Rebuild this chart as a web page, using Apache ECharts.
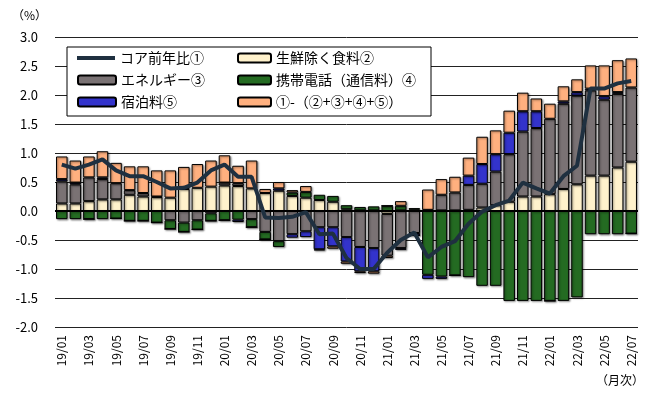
<!DOCTYPE html>
<html><head><meta charset="utf-8">
<script src="https://cdn.jsdelivr.net/npm/echarts@6/dist/echarts.min.js"></script>
<style>html,body{margin:0;padding:0;background:#fff}#c{width:650px;height:394px}</style>
</head><body><div id="c"></div>
<script>
const months = ['19/01','19/02','19/03','19/04','19/05','19/06','19/07','19/08','19/09','19/10','19/11','19/12',
'20/01','20/02','20/03','20/04','20/05','20/06','20/07','20/08','20/09','20/10','20/11','20/12',
'21/01','21/02','21/03','21/04','21/05','21/06','21/07','21/08','21/09','21/10','21/11','21/12',
'22/01','22/02','22/03','22/04','22/05','22/06','22/07'];
const core = [0.80,0.73,0.80,0.89,0.70,0.60,0.60,0.50,0.39,0.40,0.49,0.70,
0.80,0.59,0.59,-0.11,-0.12,-0.10,-0.02,-0.40,-0.39,-0.81,-1.00,-1.00,
-0.72,-0.50,-0.37,-0.80,-0.62,-0.52,-0.22,-0.01,0.10,0.18,0.49,0.39,
0.30,0.60,0.78,2.11,2.11,2.20,2.24];
const food = [0.13,0.13,0.17,0.20,0.20,0.28,0.25,0.24,0.23,0.38,0.40,0.42,
0.44,0.43,0.39,0.31,0.35,0.26,0.23,0.19,0.16,0.03,0.01,0.01,
-0.05,0.01,0.02,0.01,0.01,0.01,0.02,0.06,0.10,0.16,0.25,0.25,
0.29,0.38,0.46,0.61,0.61,0.75,0.85];
const energy = [0.38,0.33,0.41,0.35,0.28,0.08,0.06,0.01,-0.16,-0.20,-0.16,-0.04,
0.05,0.05,-0.14,-0.36,-0.52,-0.40,-0.35,-0.28,-0.28,-0.45,-0.62,-0.64,
-0.72,-0.64,-0.38,0.01,0.27,0.31,0.43,0.41,0.58,0.82,1.12,1.18,
1.30,1.47,1.53,1.47,1.31,1.27,1.28];
const phone = [-0.14,-0.14,-0.14,-0.14,-0.13,-0.17,-0.17,-0.20,-0.15,-0.16,-0.16,-0.13,
-0.16,-0.15,-0.14,-0.13,-0.10,0.06,0.10,0.09,0.10,0.07,0.06,0.07,
0.09,0.08,0.03,-1.10,-1.13,-1.11,-1.14,-1.29,-1.29,-1.55,-1.55,-1.55,
-1.55,-1.55,-1.49,-0.40,-0.40,-0.40,-0.39];
const lodging = [0.04,0.03,0,0.03,0,0,0,0,0,0,0,0,
0,-0.04,0,0,0.04,-0.06,-0.10,-0.38,-0.33,-0.42,-0.42,-0.40,
0,-0.03,-0.04,-0.07,-0.04,0,0.16,0.34,0.30,0.37,0.35,0.29,
0,0.04,0.06,0.03,0.06,0.03,0];
const other = [0.39,0.38,0.36,0.45,0.35,0.41,0.46,0.45,0.47,0.38,0.41,0.45,
0.47,0.30,0.48,0.07,0.11,0.04,0.10,-0.02,-0.04,-0.04,-0.03,-0.04,
-0.04,0.08,0,0.35,0.27,0.27,0.31,0.47,0.41,0.38,0.32,0.22,
0.26,0.26,0.22,0.40,0.53,0.55,0.50];
const yTicks = ['-2.0','-1.5','-1.0','-0.5','0.0','0.5','1.0','1.5','2.0','2.5','3.0'];

const names = ['コア前年比①','生鮮除く食料②','エネルギー③','携帯電話（通信料）④','宿泊料⑤','①-（②+③+④+⑤）'];
const FONT = '"Noto Sans CJK JP", sans-serif';
const LINEC = '#1F3040';
const barStyle = (c) => ({color:c, borderColor:'#000', borderWidth:1,
  shadowBlur:2, shadowColor:'rgba(0,0,0,0.45)', shadowOffsetX:1, shadowOffsetY:1});
function bar(name, data, color){
  return {name, type:'bar', stack:'s', data, barWidth:'85%', itemStyle:barStyle(color), z:2};
}
const legText = {fontFamily:FONT, fontSize:14, color:'#000', lineHeight:16};
const chart = echarts.init(document.getElementById('c'), null, {renderer:'canvas'});
chart.setOption({
  animation:false,
  textStyle:{fontFamily:FONT},
  grid:{left:55, right:12, top:37, bottom:67},
  graphic:[
    {type:'rect', shape:{x:67, y:47, width:364, height:69}, style:{fill:'#fff', stroke:'#000', lineWidth:1}, z:10},
    {type:'text', left:12, top:9, style:{text:'（%）', font:'12px '+FONT, fill:'#000'}, z:10},
    {type:'text', right:6, top:374, style:{text:'（月次）', font:'12px '+FONT, fill:'#000'}, z:10}
  ],
  legend:[
    {left:77, top:50, orient:'vertical', itemGap:6, itemWidth:38, itemHeight:4, padding:0, z:20,
     textStyle:legText, icon:'rect', itemStyle:{color:LINEC, borderWidth:0},
     data:[names[0]]},
    {left:77, top:72, orient:'vertical', itemGap:6, itemWidth:38, itemHeight:9, padding:0, z:20,
     textStyle:legText, data:[names[2], names[4]]},
    {left:237, top:50, orient:'vertical', itemGap:6, itemWidth:33, itemHeight:9, padding:0, z:20,
     textStyle:legText, data:[names[1], names[3], names[5]]}
  ],
  xAxis:{type:'category', data:months, axisLine:{show:false}, axisTick:{show:false},
    axisLabel:{interval:1, rotate:90, fontSize:12, color:'#000', margin:8, fontFamily:FONT}},
  yAxis:{type:'value', min:-2, max:3, interval:0.5,
    axisLine:{show:false}, axisTick:{show:false},
    splitLine:{lineStyle:{color:'#222', width:1}},
    axisLabel:{fontSize:13, color:'#000', margin:17, fontFamily:FONT,
      formatter:(v)=>yTicks[Math.round((v+2)*2)]}},
  series:[
    bar(names[1], food, '#FFF2CC'),
    bar(names[2], energy, '#7A7274'),
    bar(names[3], phone, '#246B22'),
    bar(names[4], lodging, '#3333CC'),
    bar(names[5], other, '#FFB07F'),
    {name:names[0], type:'line', data:core, symbol:'none', showSymbol:false, z:5,
     lineStyle:{color:LINEC, width:4}, itemStyle:{color:LINEC},
     markLine:{silent:true, symbol:'none', label:{show:false},
       lineStyle:{color:'#000', width:2, type:'solid'}, data:[{yAxis:0}], z:3}}
  ]
});
</script></body></html>
